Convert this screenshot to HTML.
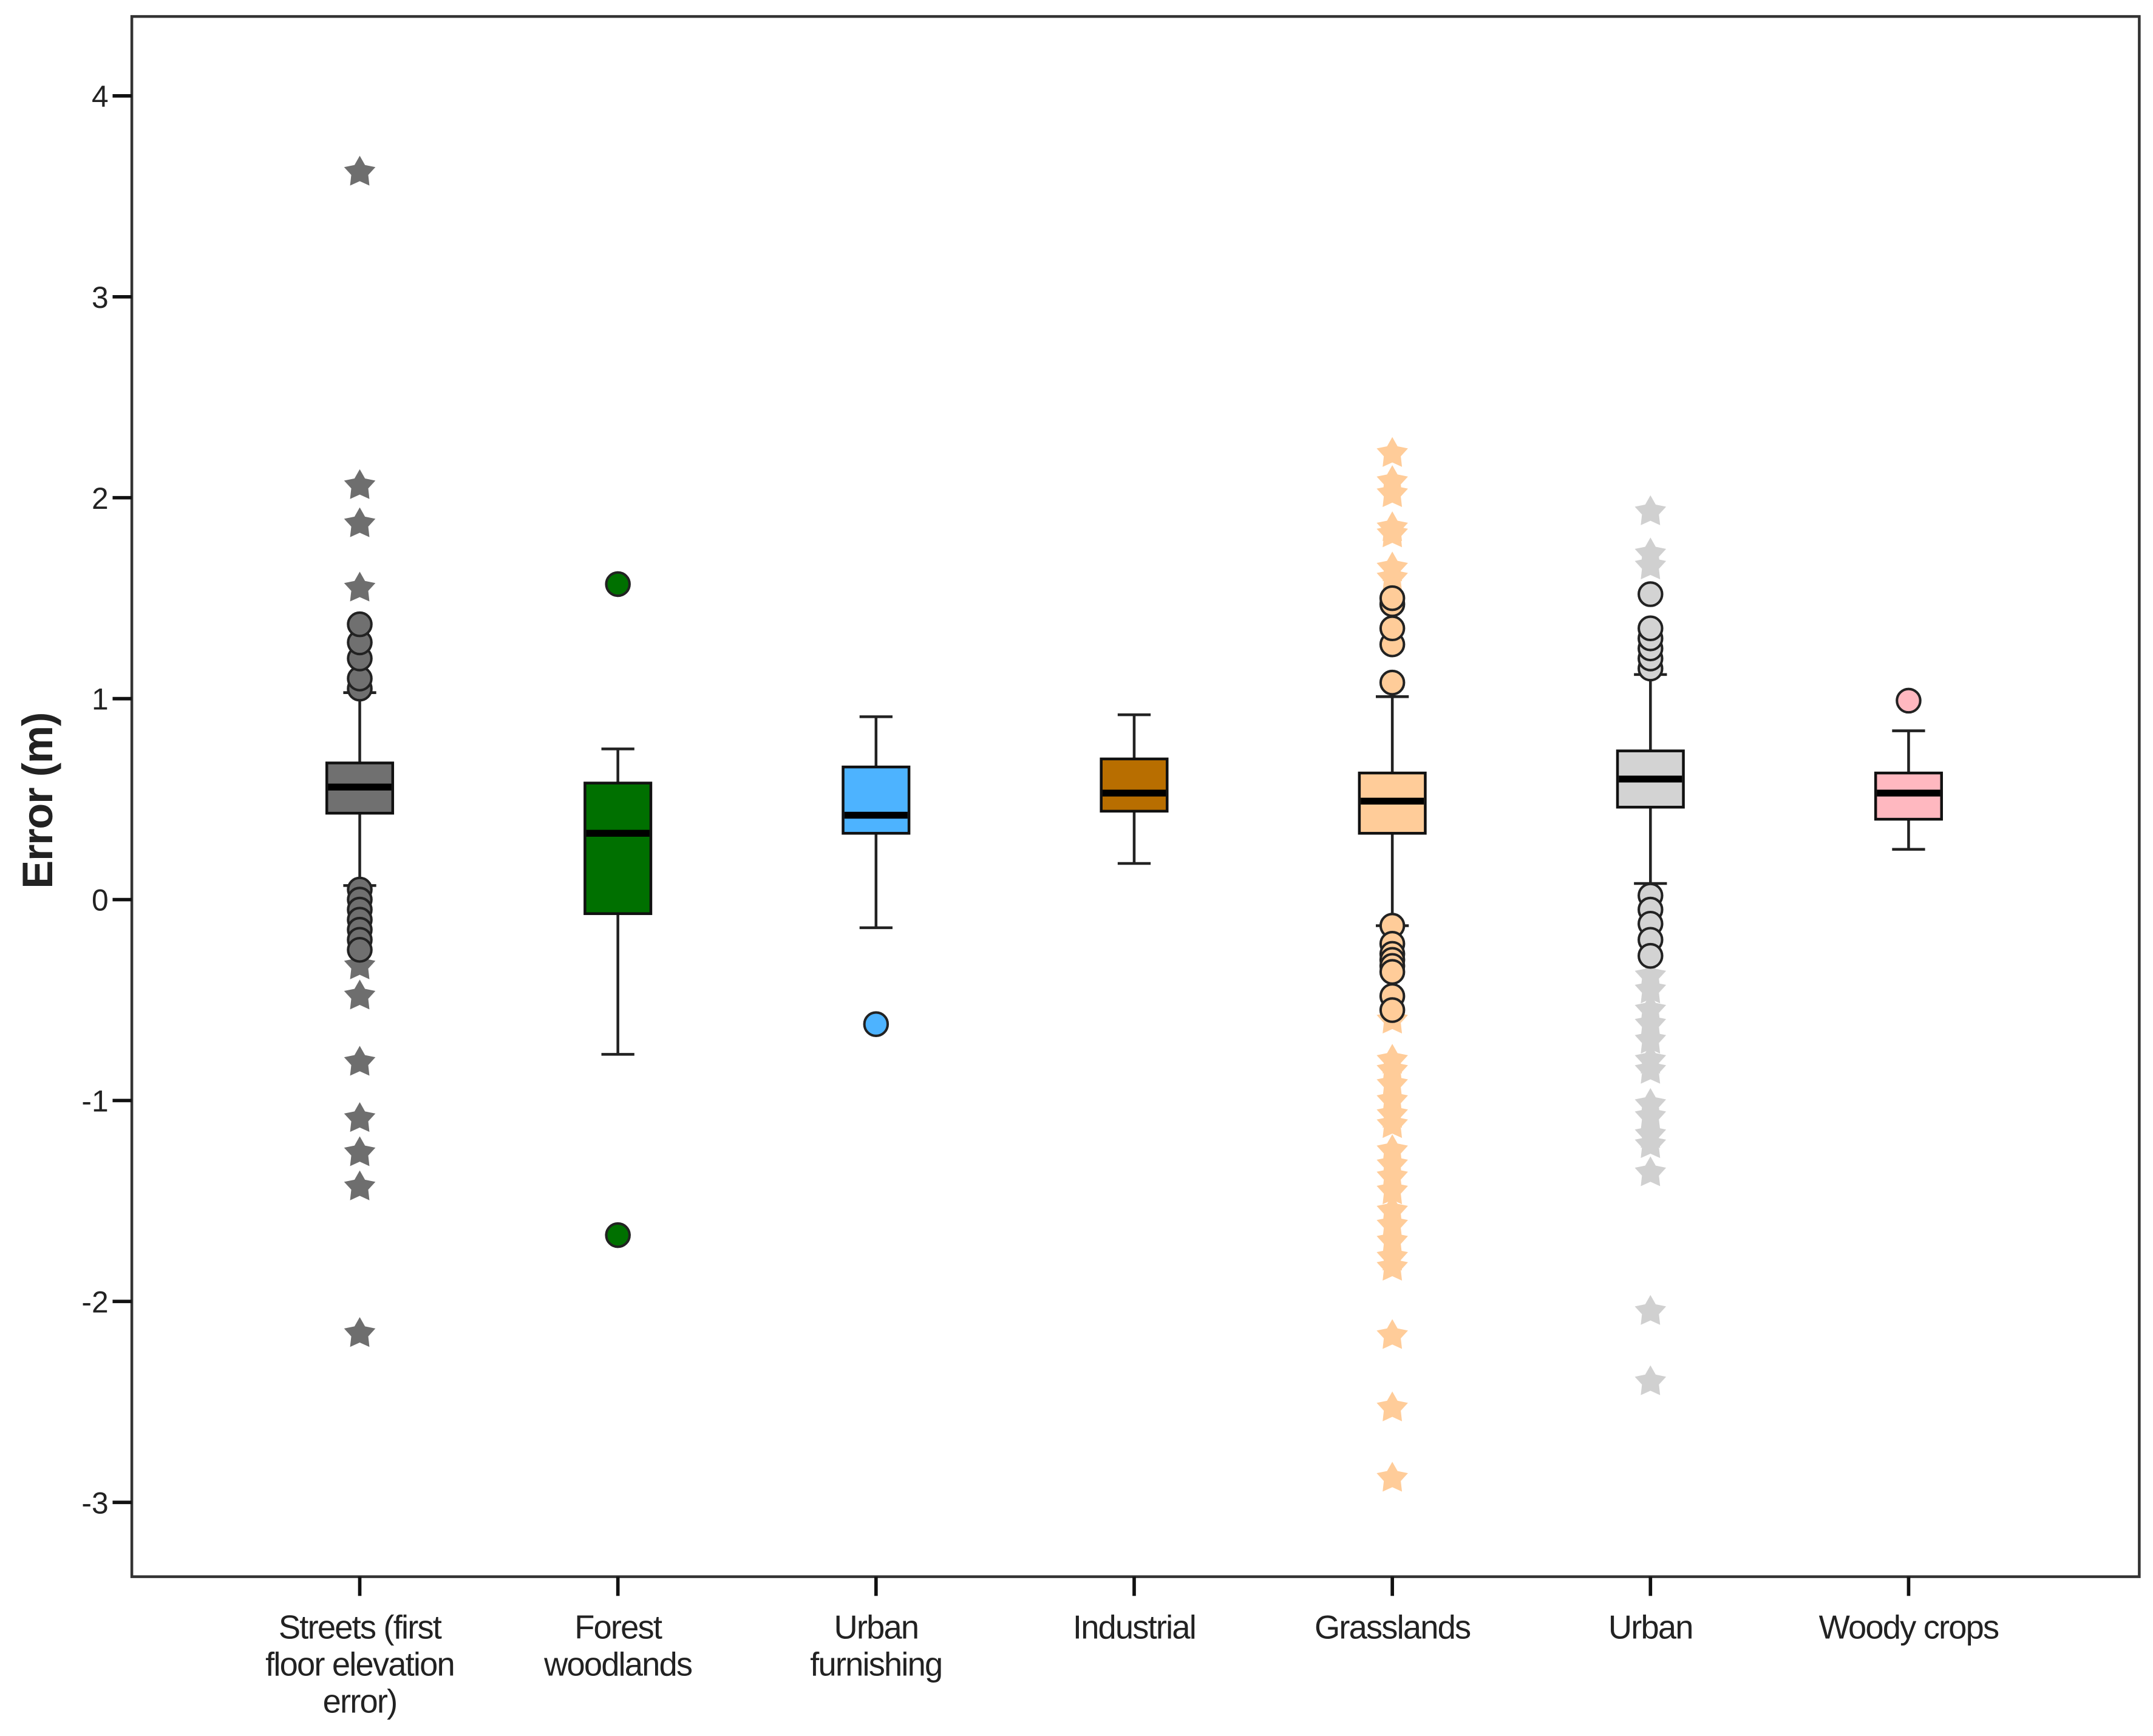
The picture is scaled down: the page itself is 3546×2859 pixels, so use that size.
<!DOCTYPE html>
<html><head><meta charset="utf-8">
<style>
html,body{margin:0;padding:0;background:#fff;}
svg{display:block;}
text{font-family:"Liberation Sans",sans-serif;}
</style></head>
<body>
<svg id="chart" width="3546" height="2859" viewBox="0 0 1568 1264" preserveAspectRatio="none" xmlns="http://www.w3.org/2000/svg">
<rect width="1568" height="1264" fill="#fff"/>
<g id="marks"></g>
<rect x="96" y="12" width="1462" height="1136" fill="none" stroke="#333" stroke-width="2"/>
<g id="axes"></g>
<text x="0" y="0" transform="translate(38,583) rotate(-90)" text-anchor="middle" font-size="31" font-weight="bold" fill="#222" letter-spacing="-0.5">Error (m)</text>
</svg>
<script>
const categories = ["Streets (first|floor elevation|error)","Forest|woodlands","Urban|furnishing","Industrial","Grasslands","Urban","Woody crops"];
const q1 = [0.43,-0.07,0.33,0.44,0.33,0.46,0.40];
const medians = [0.56,0.33,0.42,0.53,0.49,0.60,0.53];
const q3 = [0.68,0.58,0.66,0.70,0.63,0.74,0.63];
const whiskLow = [0.07,-0.77,-0.14,0.18,-0.13,0.08,0.25];
const whiskHigh = [1.03,0.75,0.91,0.92,1.01,1.12,0.84];
const circleOutliers = [
 [1.05,1.1,1.2,1.28,1.37,0.05,0.0,-0.05,-0.1,-0.15,-0.2,-0.25],
 [1.57,-1.67],
 [-0.62],
 [],
 [1.08,1.27,1.35,1.47,1.5,-0.13,-0.22,-0.27,-0.3,-0.33,-0.36,-0.48,-0.55],
 [1.15,1.2,1.25,1.3,1.35,1.52,0.02,-0.05,-0.12,-0.2,-0.28],
 [0.99]
];
const starOutliers = [
 [3.62,2.06,1.87,1.55,-0.33,-0.48,-0.81,-1.09,-1.26,-1.43,-2.16],
 [],[],[],
 [1.6,1.65,1.82,1.85,2.02,2.08,2.22,-0.6,-0.8,-0.85,-0.92,-1.0,-1.07,-1.12,-1.25,-1.32,-1.38,-1.45,-1.55,-1.62,-1.7,-1.78,-1.83,-2.17,-2.53,-2.88],
 [1.66,1.72,1.93,-0.38,-0.45,-0.55,-0.62,-0.7,-0.8,-0.85,-1.02,-1.08,-1.17,-1.22,-1.36,-2.05,-2.4],
 []
];
const yTicks = [4,3,2,1,0,-1,-2,-3];
const fills = ["#707070","#007000","#4db3ff","#b86e00","#ffcc99","#d3d3d3","#ffb8c0"];
const starFills = ["#6e6e6e","#007000","#4db3ff","#b86e00","#ffcc99","#d0d0d0","#ffb8c0"];

const NS="http://www.w3.org/2000/svg";
function yS(v){return 655-146.3*v;}
function xS(i){return 262+i*188;}
function mk(tag,attrs,parent){const e=document.createElementNS(NS,tag);for(const k in attrs)e.setAttribute(k,attrs[k]);parent.appendChild(e);return e;}
const marks=document.getElementById('marks');
const axes=document.getElementById('axes');
function starPts(cx,cy,R,r){let p=[];for(let k=0;k<10;k++){const a=-Math.PI/2+k*Math.PI/5;const rr=k%2?r:R;p.push((cx+rr*Math.cos(a)).toFixed(2)+","+(cy+rr*Math.sin(a)).toFixed(2));}return p.join(" ");}

categories.forEach((c,i)=>{
 const x=xS(i),bw=48,cw=24;
 const g=mk('g',{},marks);
 
 
 const wl=mk('line',{x1:x,x2:x,y1:yS(whiskLow[i]),y2:yS(whiskHigh[i]),stroke:"#222","stroke-width":2},g);
 
 
 [whiskLow[i],whiskHigh[i]].forEach(v=>{
  const cap=mk('line',{x1:x-cw/2,x2:x+cw/2,y1:yS(v),y2:yS(v),stroke:"#222","stroke-width":2},g);
  
  
 });
 const b=mk('rect',{x:x-bw/2,y:yS(q3[i]),width:bw,height:yS(q1[i])-yS(q3[i]),fill:fills[i],stroke:"#111","stroke-width":2},g);
 
 
 const m=mk('line',{x1:x-bw/2+1,x2:x+bw/2-1,y1:yS(medians[i]),y2:yS(medians[i]),stroke:"#000","stroke-width":5},g);
 
 
 starOutliers[i].forEach(v=>{
  const s=mk('polygon',{points:starPts(x,yS(v),12,6.5),fill:starFills[i]},g);
  
  
 });
 circleOutliers[i].forEach(v=>{
  const o=mk('circle',{cx:x,cy:yS(v),r:8.5,fill:fills[i],stroke:"#222","stroke-width":1.8},g);
  
  
 });
 const t=mk('line',{x1:x,x2:x,y1:1148,y2:1162,stroke:"#111","stroke-width":2.5},axes);
 
 
 const lbl=mk('text',{x:x,y:1193,"text-anchor":"middle","font-size":24,fill:"#222","letter-spacing":"-0.8"},axes);
 
 
 c.split('|').forEach((ln,k)=>{const ts=mk('tspan',{x:x,dy:k?27:0},lbl);ts.textContent=ln;});
});
yTicks.forEach(v=>{
 const t=mk('line',{x1:82,x2:96,y1:yS(v),y2:yS(v),stroke:"#111","stroke-width":2.5},axes);
 
 
 const l=mk('text',{x:79,y:yS(v)+8,"text-anchor":"end","font-size":22,fill:"#222"},axes);
 
 
 l.textContent=v;
});
</script>
</body></html>
